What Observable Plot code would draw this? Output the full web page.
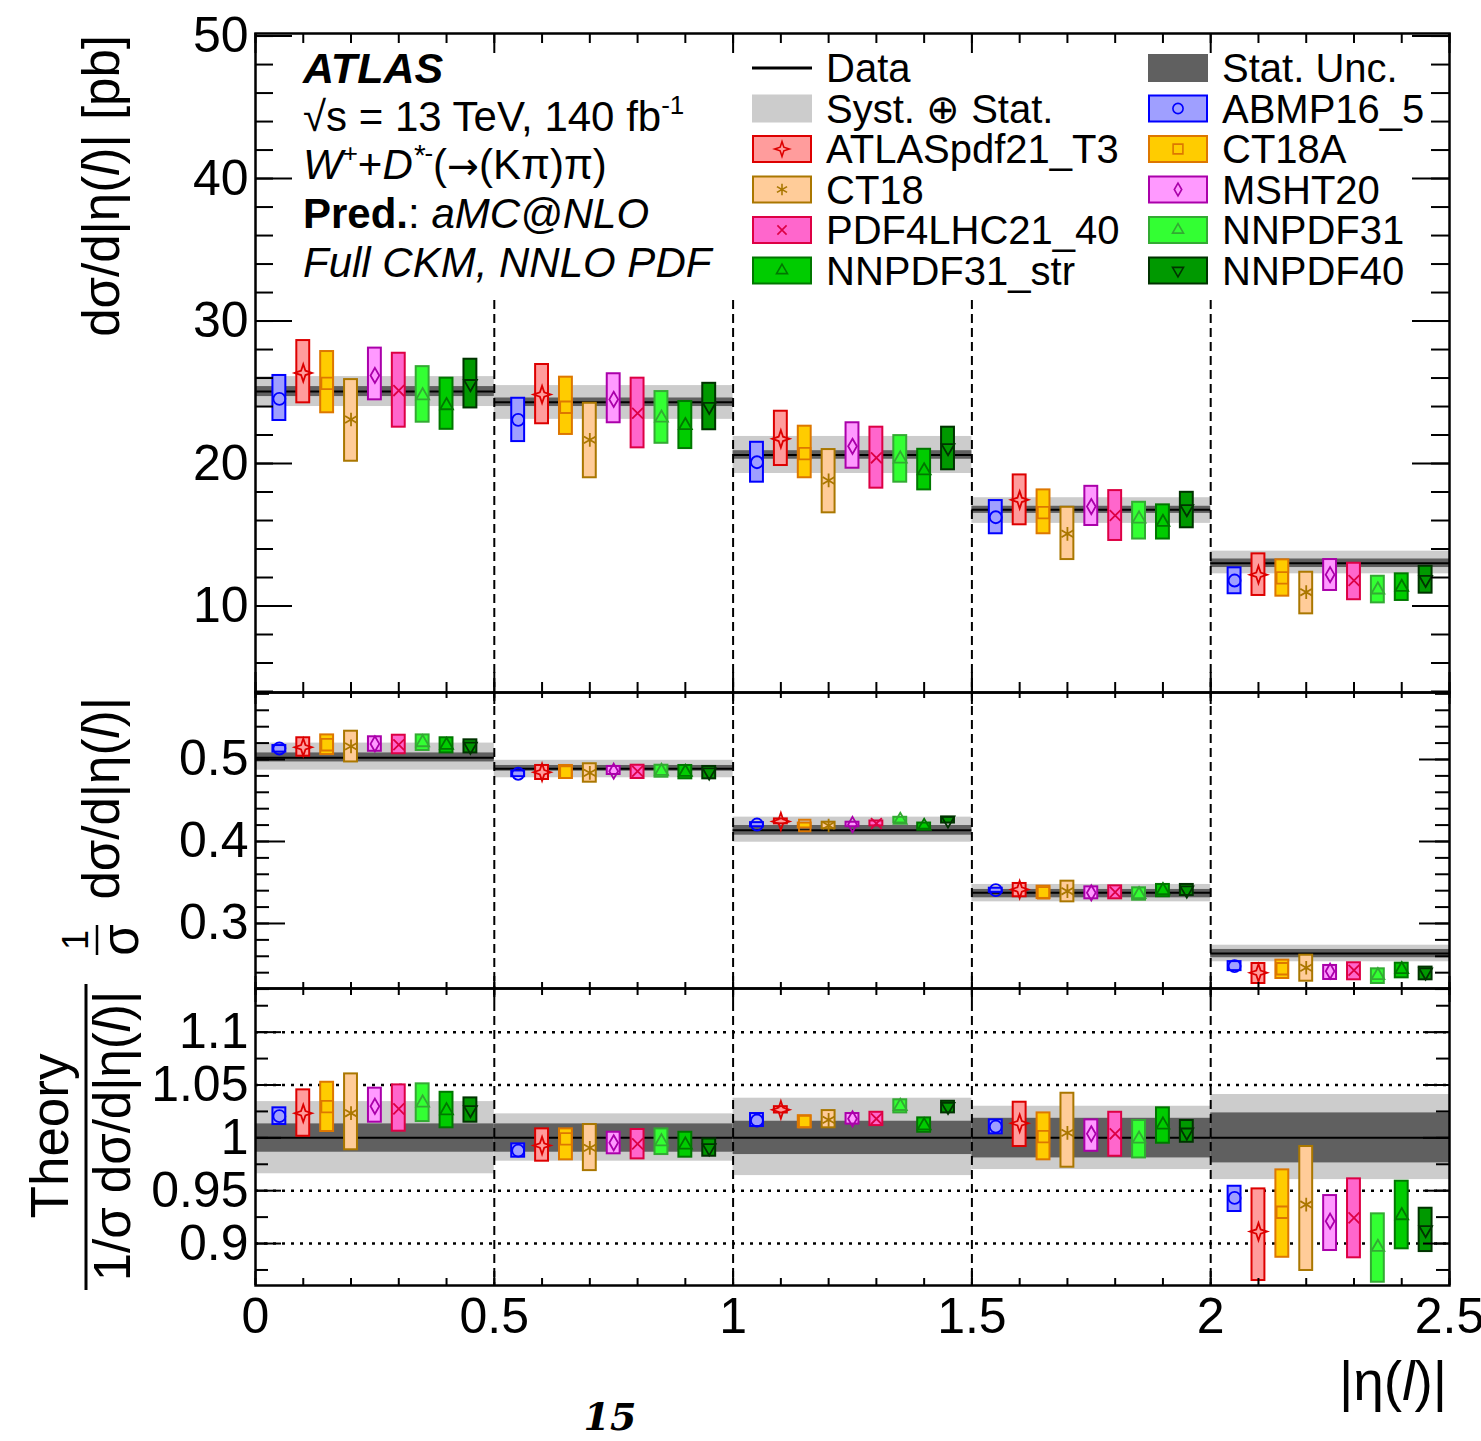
<!DOCTYPE html>
<html><head><meta charset="utf-8">
<script src="https://cdn.jsdelivr.net/npm/d3@7"></script>
<script src="https://cdn.jsdelivr.net/npm/@observablehq/plot@0.6"></script>
<style>
body{margin:0;background:#fff;}
#chart{position:relative;width:1481px;height:1441px;overflow:hidden;background:#fff;}
#chart svg{position:absolute;left:0;top:0;}
</style></head><body><div id="chart"></div>
<script>
// ---------------- data ----------------
const binEdges = [0, 0.5, 1, 1.5, 2, 2.5];
const pdfNames = ["ABMP16_5","ATLASpdf21_T3","CT18A","CT18","MSHT20","PDF4LHC21_40","NNPDF31","NNPDF31_str","NNPDF40"];

// absolute cross section [pb]
const absData = [25.05, 24.3, 20.6, 16.75, 13.0];
const absStat = [[24.7,25.4],[24.0,24.6],[20.3,20.9],[16.5,17.0],[12.7,13.3]];
const absTot  = [[24.0,26.1],[23.1,25.47],[19.3,21.9],[15.8,17.6],[12.26,13.85]];
const absC = [
  [24.54,23.07,20.09,16.23,11.79],
  [26.36,24.84,21.73,17.45,12.2],
  [25.63,23.95,20.7,16.56,11.98],
  [23.09,21.66,18.81,15.07,10.97],
  [26.18,24.5,21.21,16.98,12.2],
  [25.12,23.53,20.4,16.35,11.79],
  [24.77,23.2,20.33,16.12,11.14],
  [24.07,22.67,19.5,15.88,11.32],
  [25.6,24.0,21.1,16.82,11.86]];
const absLo = [
  [23.02,21.54,18.69,15.07,10.86],
  [24.26,22.79,19.86,15.7,10.74],
  [23.56,22.04,19.0,15.07,10.69],
  [20.16,19.0,16.54,13.26,9.45],
  [24.47,22.86,19.67,15.65,11.09],
  [22.55,21.1,18.27,14.6,10.44],
  [22.9,21.42,18.69,14.7,10.22],
  [22.4,21.05,18.15,14.7,10.39],
  [23.9,22.37,19.56,15.49,10.9]];
const absHi = [
  [26.18,24.58,21.49,17.4,12.68],
  [28.63,26.95,23.67,19.2,13.66],
  [27.86,26.06,22.62,18.15,13.24],
  [25.89,24.23,20.98,16.93,12.37],
  [28.1,26.3,22.86,18.4,13.26],
  [27.74,25.99,22.55,18.1,13.0],
  [26.8,25.05,21.96,17.28,12.09],
  [25.99,24.35,21.0,17.1,12.26],
  [27.32,25.63,22.55,17.98,12.79]];

// normalised cross section
const normData = [0.502, 0.4886, 0.4138, 0.3374, 0.2634];
const normStat = [[0.497,0.508],[0.4857,0.4927],[0.4077,0.4195],[0.3313,0.3415],[0.2582,0.2683]];
const normTot  = [[0.487,0.52],[0.4777,0.499],[0.3991,0.4297],[0.3264,0.3476],[0.2533,0.2735]];
const normC = [
  [0.5134,0.4826,0.4207,0.3406,0.248],
  [0.515,0.4845,0.4244,0.3415,0.2399],
  [0.518,0.4845,0.4195,0.3374,0.2448],
  [0.516,0.4837,0.4195,0.3394,0.246],
  [0.519,0.4857,0.4207,0.3374,0.2418],
  [0.518,0.4857,0.422,0.3382,0.243],
  [0.5207,0.4857,0.426,0.3354,0.2366],
  [0.5175,0.4845,0.4187,0.3402,0.2439],
  [0.516,0.4845,0.426,0.3406,0.2406]];
const normLo = [
  [0.509,0.479,0.418,0.338,0.2425],
  [0.504,0.4756,0.4215,0.3326,0.2268],
  [0.506,0.4768,0.4165,0.3305,0.2329],
  [0.497,0.4723,0.4155,0.3264,0.2296],
  [0.51,0.4817,0.418,0.3301,0.2317],
  [0.507,0.4768,0.419,0.3301,0.2313],
  [0.511,0.4784,0.4225,0.3284,0.2268],
  [0.508,0.4764,0.415,0.3326,0.2337],
  [0.508,0.4764,0.4225,0.3341,0.2313]];
const normHi = [
  [0.517,0.486,0.423,0.343,0.2535],
  [0.5265,0.4927,0.4275,0.3488,0.2512],
  [0.53,0.4927,0.4225,0.3455,0.2553],
  [0.5345,0.4948,0.4235,0.3516,0.2613],
  [0.5277,0.4915,0.4235,0.3447,0.2488],
  [0.5296,0.493,0.425,0.3459,0.2521],
  [0.53,0.493,0.4295,0.3435,0.2447],
  [0.5265,0.4927,0.4225,0.3476,0.2516],
  [0.524,0.4915,0.4295,0.3476,0.2468]];

// ratio theory / data
const ratioData = [1, 1, 1, 1, 1];
const ratioStat = [[0.9864,1.0132],[0.9864,1.0132],[0.9842,1.0157],[0.981,1.0185],[0.9763,1.0236]];
const ratioTot  = [[0.966,1.0343],[0.9779,1.0227],[0.9643,1.0375],[0.97,1.0299],[0.9605,1.041]];
const ratioC = [
  [1.0205,0.988,1.0164,1.0107,0.9432],
  [1.0233,0.9927,1.0265,1.0138,0.9113],
  [1.0296,0.999,1.0154,1.0012,0.9296],
  [1.0233,0.9905,1.017,1.0047,0.9369],
  [1.0299,0.9953,1.018,1.0038,0.9211],
  [1.0274,0.9943,1.018,1.0038,0.9243],
  [1.0331,0.9965,1.0299,0.999,0.8965],
  [1.0258,0.9934,1.0116,1.0123,0.9265],
  [1.0265,0.9905,1.0296,1.0053,0.913]];
const ratioLo = [
  [1.0126,0.9817,1.0107,1.0038,0.9303],
  [1.0015,0.9779,1.0235,0.9918,0.865],
  [1.006,0.9792,1.0095,0.9792,0.887],
  [0.9887,0.969,1.0095,0.9722,0.8745],
  [1.0148,0.9849,1.013,0.9873,0.8934],
  [1.0063,0.9801,1.0116,0.9826,0.8865],
  [1.0154,0.9842,1.0236,0.981,0.8634],
  [1.0095,0.9817,1.0053,0.9949,0.895],
  [1.0148,0.9826,1.0236,0.9958,0.8924]];
const ratioHi = [
  [1.0284,0.9943,1.023,1.017,0.9542],
  [1.0454,1.0085,1.0295,1.0337,0.9517],
  [1.0526,1.0085,1.021,1.0236,0.9697],
  [1.0605,1.0126,1.0258,1.0422,0.9918],
  [1.047,1.0053,1.023,1.017,0.9454],
  [1.0501,1.0079,1.0242,1.0242,0.9612],
  [1.0511,1.0085,1.036,1.0164,0.9281],
  [1.0431,1.0053,1.0189,1.0284,0.959],
  [1.0378,0.999,1.0346,1.0164,0.9334]];

// tick labels
const xTickLabels = [0, 0.5, 1, 1.5, 2, 2.5];
const absTicks = [10, 20, 30, 40, 50];
const normTicks = [0.3, 0.4, 0.5];
const ratioTicks = [0.9, 0.95, 1, 1.05, 1.1];
const ratioGrid = [0.9, 0.95, 1.05, 1.1];

// ---------------- styles ----------------
const pdfFill   = ["#9f9fff","#ff9c9c","#ffcc00","#ffcc99","#ff99ff","#ff66cc","#33ff33","#00cc00","#009900"];
const pdfStroke = ["#0000ff","#dd0000","#dd7700","#aa7700","#aa00aa","#dd0044","#33aa33","#007700","#003300"];
const star4 = {draw(ctx, size){const r=Math.sqrt(size/Math.PI)*1.45, q=r*0.25;
  ctx.moveTo(0,-r);ctx.lineTo(q,-q);ctx.lineTo(r,0);ctx.lineTo(q,q);ctx.lineTo(0,r);ctx.lineTo(-q,q);ctx.lineTo(-r,0);ctx.lineTo(-q,-q);ctx.closePath();}};
const triDown = {draw(ctx, size){const y=-Math.sqrt(size/(Math.sqrt(3)*3)), s=Math.sqrt(3);
  ctx.moveTo(0,-y*2);ctx.lineTo(-s*y,y);ctx.lineTo(s*y,y);ctx.closePath();}};
const pdfSymbol = ["circle", star4, "square", "asterisk", "diamond", "times", "triangle", "triangle", triDown];
const pdfR = [6, 6, 6.5, 6.5, 4.6, 5, 4.8, 4.8, 4.8];

const W = 1481, H = 1441, FL = 255, FR = 1449;
const FONT = "'Liberation Sans', Arial, Helvetica, sans-serif";

function seq(start, stop, step){const n=Math.round((stop-start)/step);return d3.range(n+1).map(i=>+(start+i*step).toFixed(4));}
const xMinor = seq(0, 2.5, 0.1);

const panels = [
  {top:33, bottom:692, domain:[3.93,50.18], data:absData, stat:absStat, tot:absTot, c:absC, lo:absLo, hi:absHi,
   ticks:absTicks, minorY:seq(4,50,2), xl:[10,20], yl:[18,37], xAxis:false, grid:[], dashTop:267},
  {top:692, bottom:988, domain:[0.2207,0.5817], data:normData, stat:normStat, tot:normTot, c:normC, lo:normLo, hi:normHi,
   ticks:normTicks, minorY:seq(0.22,0.58,0.02), xl:[6,12], yl:[14,30], xAxis:false, grid:[], dashTop:0},
  {top:988, bottom:1285, domain:[0.8603,1.1413], data:ratioData, stat:ratioStat, tot:ratioTot, c:ratioC, lo:ratioLo, hi:ratioHi,
   ticks:ratioTicks, minorY:seq(0.875,1.125,0.025), xl:[7,14], yl:[13,26], xAxis:true, grid:ratioGrid, dashTop:0}
];

function panelPlot(p){
  const fw = FR-FL, fh = p.bottom-p.top;
  const bins = d3.range(binEdges.length-1).map(i=>({lo:binEdges[i],hi:binEdges[i+1],v:p.data[i],
      sLo:p.stat[i][0],sHi:p.stat[i][1],tLo:p.tot[i][0],tHi:p.tot[i][1]}));
  const marks = [];
  marks.push(Plot.ruleY(p.grid,{y:d=>d,stroke:"black",strokeWidth:2.5,strokeDasharray:"3,6"}));
  marks.push(Plot.rect(bins,{x1:"lo",x2:"hi",y1:"tLo",y2:"tHi",fill:"#cccccc"}));
  marks.push(Plot.rect(bins,{x1:"lo",x2:"hi",y1:"sLo",y2:"sHi",fill:"#606060"}));
  marks.push(Plot.ruleY(bins,{y:"v",x1:"lo",x2:"hi",stroke:"black",strokeWidth:2}));
  marks.push(Plot.ruleX(binEdges.slice(1,-1),{x:d=>d,insetTop:p.dashTop,stroke:"black",strokeWidth:2,strokeDasharray:"9,5"}));
  pdfNames.forEach((name,k)=>{
    const rows = bins.map((b,i)=>({x:b.lo+(k+1)*(b.hi-b.lo)/10, c:p.c[k][i], lo:p.lo[k][i], hi:p.hi[k][i]}));
    marks.push(Plot.rect(rows,{x1:d=>d.x-0.0135,x2:d=>d.x+0.0135,y1:"lo",y2:"hi",fill:pdfFill[k],stroke:pdfStroke[k],strokeWidth:2}));
    marks.push(Plot.dot(rows,{x:"x",y:"c",symbol:pdfSymbol[k],r:pdfR[k],fill:"none",stroke:pdfStroke[k],strokeWidth:1.8}));
  });
  // ROOT style inner ticks on four sides
  const xMajor = binEdges;
  [[xMinor,p.xl[0]],[xMajor,p.xl[1]]].forEach(([t,len])=>{
    marks.push(Plot.ruleX(t,{x:d=>d,insetTop:fh-len,strokeWidth:2}));
    marks.push(Plot.ruleX(t,{x:d=>d,insetBottom:fh-len,strokeWidth:2}));
  });
  [[p.minorY,p.yl[0]],[p.ticks,p.yl[1]]].forEach(([t,len])=>{
    marks.push(Plot.ruleY(t,{y:d=>d,insetRight:fw-len,strokeWidth:2}));
    marks.push(Plot.ruleY(t,{y:d=>d,insetLeft:fw-len,strokeWidth:2}));
  });
  marks.push(Plot.frame({stroke:"black",strokeWidth:2.5}));
  const xOpt = p.xAxis
    ? {domain:[0,2.5], ticks:xTickLabels, tickFormat:d=>String(d), tickSize:0, tickPadding:12, label:null}
    : {domain:[0,2.5], axis:null};
  return Plot.plot({
    width:W, height:H, marginTop:p.top, marginBottom:H-p.bottom, marginLeft:FL, marginRight:W-FR,
    x:xOpt,
    y:{domain:p.domain, ticks:p.ticks, tickFormat:d=>String(d), tickSize:0, tickPadding:7, label:null},
    style:{background:"transparent", fontFamily:FONT, fontSize:"50px", color:"black", overflow:"visible"},
    marks
  });
}

const chart = document.getElementById("chart");
panels.forEach(p=>chart.appendChild(panelPlot(p)));

// ---------------- text, legend, axis titles ----------------
const svg = d3.select(chart).append("svg").attr("width",W).attr("height",H)
  .style("font-family",FONT).style("fill","black");

function tx(g, x, y, size, parts, anchor="start", transform=null){
  const t = g.append("text").attr("x",x).attr("y",y).attr("font-size",size).attr("text-anchor",anchor);
  if (transform) t.attr("transform",transform);
  parts.forEach(pt=>{
    const s = t.append("tspan").text(pt.t);
    if (pt.i) s.attr("font-style","italic");
    if (pt.b) s.attr("font-weight","bold");
    if (pt.sz) s.attr("font-size",pt.sz);
    if (pt.dy) s.attr("dy",pt.dy);
    if (pt.f) s.attr("font-family",pt.f);
  });
  return t;
}

// ATLAS label block
tx(svg,303,83,43,[{t:"ATLAS",b:1,i:1}]);
tx(svg,303,131,42,[{t:"√s = 13 TeV, 140 fb"},{t:"-1",sz:26,dy:-17}]);
tx(svg,303,179,42,[{t:"W",i:1},{t:"+",sz:26,dy:-17},{t:"+",dy:17},{t:"D",i:1},{t:"*",i:1,sz:30,dy:-14},{t:"-",sz:26,dy:-3},
  {t:"(",dy:17},{t:"→",f:"'DejaVu Sans', sans-serif",sz:38},{t:"(Kπ)π)"}]);
tx(svg,303,228,42,[{t:"Pred.",b:1},{t:": "},{t:"aMC@NLO",i:1}]);
tx(svg,303,277,42,[{t:"Full CKM, NNLO PDF",i:1}]);

// legend
const rowY = [68,108.5,149,189.5,230,270.5];
const legendLeft  = [{label:"Data",kind:"line"},{label:"Syst. ⊕ Stat.",kind:"syst"},{k:1},{k:3},{k:5},{k:7}];
const legendRight = [{label:"Stat. Unc.",kind:"stat"},{k:0},{k:2},{k:4},{k:6},{k:8}];
function legendCol(items, x0){
  items.forEach((it,i)=>{
    const cy = rowY[i];
    if (it.kind==="line"){
      svg.append("line").attr("x1",x0).attr("x2",x0+60).attr("y1",cy).attr("y2",cy).attr("stroke","black").attr("stroke-width",3);
    } else if (it.kind==="syst"||it.kind==="stat"){
      svg.append("rect").attr("x",x0).attr("y",cy-14).attr("width",60).attr("height",28).attr("fill",it.kind==="syst"?"#cccccc":"#606060");
    } else {
      const k = it.k;
      svg.append("rect").attr("x",x0+1).attr("y",cy-13).attr("width",58).attr("height",26)
        .attr("fill",pdfFill[k]).attr("stroke",pdfStroke[k]).attr("stroke-width",2);
      const sym = typeof pdfSymbol[k]==="string" ? d3["symbol"+pdfSymbol[k][0].toUpperCase()+pdfSymbol[k].slice(1)] : pdfSymbol[k];
      const rr = pdfR[k]*0.85;
      svg.append("path").attr("d",d3.symbol(sym, rr*rr*Math.PI)()).attr("transform",`translate(${x0+30},${cy})`)
        .attr("fill","none").attr("stroke",pdfStroke[k]).attr("stroke-width",1.6);
    }
    tx(svg,x0+74,cy+14,40,[{t:it.label ?? pdfNames[it.k]}]);
  });
}
legendCol(legendLeft,752);
legendCol(legendRight,1148);

// y axis titles
tx(svg,0,0,51,[{t:"dσ/d|η("},{t:"l",i:1},{t:")| [pb]"}],"end","translate(119,35) rotate(-90)");
tx(svg,0,0,51,[{t:"dσ/d|η("},{t:"l",i:1},{t:")|"}],"end","translate(119,697) rotate(-90)");
tx(svg,0,0,36,[{t:"1"}],"middle","translate(88,940) rotate(-90)");
svg.append("line").attr("x1",97).attr("x2",97).attr("y1",925).attr("y2",955).attr("stroke","black").attr("stroke-width",2.5);
tx(svg,0,0,51,[{t:"σ"}],"middle","translate(138,940) rotate(-90)");
tx(svg,0,0,53,[{t:"Theory"}],"middle","translate(68,1136) rotate(-90)");
svg.append("line").attr("x1",86).attr("x2",86).attr("y1",984).attr("y2",1290).attr("stroke","black").attr("stroke-width",3);
tx(svg,0,0,51,[{t:"1/σ dσ/d|η("},{t:"l",i:1},{t:")|"}],"middle","translate(130,1136) rotate(-90)");

// x axis title
tx(svg,1447,1400,55,[{t:"|η("},{t:"l",i:1},{t:")|"}],"end");

// page number
tx(svg,610,1430,38,[{t:"15",b:1,i:1,f:"'DejaVu Serif', serif"}],"middle");
</script></body></html>
